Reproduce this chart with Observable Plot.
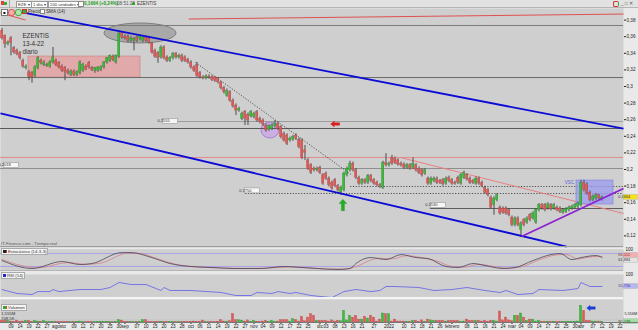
<!DOCTYPE html>
<html><head><meta charset="utf-8">
<script src="https://cdn.jsdelivr.net/npm/d3@7"></script>
<script src="https://cdn.jsdelivr.net/npm/@observablehq/plot@0.6"></script>
<style>
html,body{margin:0;padding:0;}
body{width:638px;height:330px;overflow:hidden;background:#e9e9e9;font-family:"Liberation Sans",Arial,sans-serif;}
#root{position:relative;width:638px;height:330px;}
.abs{position:absolute;}
.pl{position:absolute;left:0;}
#tb{left:0;top:0;width:638px;height:8px;background:#e2e2e2;border-bottom:1px solid #b5b5b5;box-sizing:border-box;font-size:4.6px;line-height:7px;color:#333;}
.box{position:absolute;top:1px;height:5px;line-height:5px;background:#fff;border:0.5px solid #999;font-size:4.3px;padding:0 1px;color:#333;white-space:nowrap;}
.t{position:absolute;white-space:nowrap;font-size:4.6px;color:#333;}
.leg{position:absolute;background:#f4f4f4;border:0.5px solid #aaa;font-size:4.3px;line-height:5px;height:5px;padding:0 1px;white-space:nowrap;color:#333;}
.sq{display:inline-block;width:3px;height:3px;margin-right:1px;vertical-align:middle;}
.sep{position:absolute;left:0;width:623px;}
</style></head>
<body><div id="root">
<div id="tb" class="abs">
  <span class="abs" style="left:1px;top:1px;width:3px;height:4px;background:#e04040"></span>
  <span class="abs" style="left:4px;top:2px;width:3px;height:3px;background:#30b030"></span>
  <span class="abs" style="left:9px;top:0px;width:1px;height:7px;background:#aaa"></span>
  <span class="box" style="left:16px">EZE ▾</span>
  <span class="box" style="left:31px">1 día ▾</span>
  <span class="box" style="left:48px">200 unidades ▾</span>
  <span class="abs" style="left:78px;top:1px;width:4px;height:4px;background:#fff;border:0.5px solid #888"></span>
  <span class="t" style="left:84px;top:0;color:#1a9a1a;font-weight:bold">0,1664 (+0,24%)</span>
  <span class="t" style="left:117px;top:0;color:#555">08:51:22</span>
  <span class="abs" style="left:132px;top:2px;width:3px;height:3px;border-radius:2px;background:#20a020"></span>
  <span class="t" style="left:137px;top:0;color:#444">EZENTIS</span>
  <span class="abs" style="left:613px;top:1px;width:4px;height:4px;border-radius:2px;border:1px solid #d33;border-right-color:#3a3"></span>
  <span class="t" style="left:621px;top:0;color:#555">_ □ ✕</span>
</div>
<div id="price" class="pl" style="top:8px"></div>
<div id="stoch" class="pl" style="top:247px"></div>
<div id="rsi" class="pl" style="top:271px"></div>
<div id="vol" class="pl" style="top:298px"></div>
<div class="sep" style="top:246px;height:1px;background:#9c9c9c"></div>
<div class="sep" style="top:270px;height:1px;background:#b4b4b4"></div>
<div class="sep" style="top:297px;height:2px;background:#f4f4f4"></div>
<div class="abs" style="left:0;top:322px;width:638px;height:1px;background:#777"></div>
<div class="abs" style="left:1px;top:9px;width:5px;height:5px;background:#fff;border:0.5px solid #777;font-size:4px;line-height:5px;text-align:center">■</div>
<div class="abs" style="left:8px;top:9px;width:5px;height:5px;border-radius:3px;background:#f3b0b0;border:0.5px solid #d55"></div>
<div class="abs" style="left:15px;top:9px;width:5px;height:5px;border-radius:3px;background:#b0e8b0;border:0.5px solid #4a4"></div>
<div class="t" style="left:22px;top:9px;line-height:6px"><span class="sq" style="background:#3a3;border:0.3px solid #c33"></span>Precio</div>
<div class="t" style="left:40px;top:9px;line-height:6px"><span class="sq" style="background:#fff;border:0.3px solid #888"></span>SMA (14)</div>
<div class="t" style="left:1px;top:241px;font-size:4.3px;color:#555">IT-Finance.com - Tiempo real</div>
<div class="leg" style="left:1px;top:248px"><span class="sq" style="background:#222;border-right:1.5px solid #c33"></span>Estocástico (14-3-3)</div>
<div class="leg" style="left:1px;top:272px"><span class="sq" style="background:#2222dd"></span>RSI (14)</div>
<div class="leg" style="left:1px;top:304px"><span class="sq" style="background:#3a3;border-right:1.5px solid #d44"></span>Volumen</div>
<div class="t" style="left:1px;top:311px;font-size:4.3px;line-height:5px">1,555M</div>
<div class="t" style="left:1px;top:316px;font-size:4.3px;line-height:5px">708,5K</div>
</div>
<script>
// ---------- DATA (prices in thousandths of euro) ----------
// [open, high, low, close], one per trading session, 06-jul-2021 .. 12-abr-2022
const candles = [
[367,370,356,358],[361,362,346,351],[351,355,349,353],[358,360,337,352],[346,348,339,341],[343,345,337,339],[340,342,332,334],[331,333,322,324],[322,326,320,324],[317,319,307,312],
[316,318,304,311],[313,325,311,323],[322,336,320,334],[331,333,326,328],[326,331,324,329],[325,328,323,326],[324,331,322,329],[329,347,327,335],[331,333,324,326],[328,330,321,323],
[324,326,317,319],[322,324,307,318],[319,321,314,316],[314,320,312,318],[318,320,312,314],[314,319,312,317],[316,331,314,329],[319,328,317,326],[324,326,319,320],[328,330,321,323],
[322,324,318,320],[319,323,316,322],[319,324,317,323],[320,325,318,323],[323,330,321,329],[329,335,327,334],[331,338,329,337],[336,338,330,332],[329,338,327,337],[336,367,334,363],
[364,366,357,359],[360,362,356,358],[360,362,353,355],[355,360,353,358],[355,359,343,357],[359,361,353,355],[357,362,355,360],[355,361,353,359],[359,361,353,355],[358,360,351,353],
[352,353,339,341],[343,345,334,336],[340,342,328,334],[335,349,333,347],[347,349,332,334],[335,337,329,331],[331,336,329,334],[334,341,332,339],[339,341,333,335],[335,339,333,337],
[337,339,329,331],[335,337,329,331],[332,334,327,329],[329,331,321,323],[323,325,317,319],[326,329,311,313],[316,318,309,311],[311,313,308,310],[310,314,308,312],[312,314,309,311],
[311,313,306,308],[311,312,305,307],[310,311,303,305],[305,306,296,298],[298,300,291,293],[289,297,287,295],[293,295,281,283],[283,285,274,276],[277,279,265,271],[271,275,269,273],
[261,269,259,267],[269,271,253,261],[266,268,253,259],[264,271,262,269],[263,269,261,267],[269,271,257,259],[261,263,255,257],[259,261,252,254],[253,255,245,247],[248,254,246,252],
[249,255,247,253],[252,259,250,255],[255,257,247,249],[251,253,237,239],[243,245,233,235],[241,243,229,231],[235,239,233,237],[236,241,234,239],[241,243,235,237],[236,238,225,227],
[235,237,212,214],[223,229,211,220],[211,213,199,201],[205,207,194,196],[201,203,197,199],[199,203,197,201],[202,204,194,196],[193,195,181,183],[195,197,187,189],[189,191,179,181],
[184,186,175,177],[187,189,178,180],[180,182,173,175],[172,180,169,178],[175,197,173,195],[193,203,191,201],[199,210,197,207],[207,209,197,199],[199,201,188,190],[190,192,181,183],
[183,189,181,187],[187,189,182,184],[184,194,182,192],[192,194,184,186],[187,189,181,183],[184,186,179,181],[181,183,177,180],[178,210,176,208],[208,219,203,205],[205,209,203,207],
[214,217,205,207],[213,215,206,208],[211,213,204,206],[207,209,203,205],[206,208,200,202],[202,207,200,205],[205,207,199,201],[202,214,200,207],[205,207,197,199],[201,203,194,196],
[199,201,191,193],[195,201,193,199],[189,191,181,183],[183,191,181,189],[186,191,184,189],[189,191,182,184],[186,188,182,184],[187,189,180,182],[183,191,181,189],[190,192,184,186],
[187,189,181,183],[184,186,181,183],[190,192,182,184],[183,195,181,193],[190,198,188,196],[193,195,186,188],[189,191,182,184],[186,188,182,184],[183,191,181,189],[189,191,181,183],
[184,186,178,180],[178,180,170,172],[175,177,167,169],[166,168,152,154],[157,167,145,165],[163,171,161,169],[154,156,145,147],[153,155,146,148],[153,155,145,147],[151,153,143,145],
[142,144,131,133],[133,143,131,141],[141,143,131,133],[127,137,118,135],[139,141,131,133],[136,143,134,141],[145,147,137,139],[141,149,139,147],[136,153,134,151],[151,159,149,157],
[157,159,151,153],[157,159,149,151],[153,160,151,158],[157,159,150,152],[153,159,151,157],[154,156,149,151],[153,155,147,149],[148,153,146,151],[149,154,147,152],[151,156,149,154],
[153,157,151,155],[154,159,152,157],[155,161,153,159],[157,187,155,184],[184,187,173,175],[182,184,169,171],[172,174,161,163],[163,169,161,167],[165,171,163,169],[169,170,163,165],
[164,168,162,166.4]
];
// volume, millions of shares
const volume = [
1.2,1.2,1.0,0.6,0.5,1.2,0.5,0.6,1.0,1.0, 0.5,1.0,0.6,0.5,1.0,0.4,0.4,0.5,0.4,0.4,
0.3,0.4,0.5,0.3,0.4,0.5,0.6,0.4,0.3,0.4, 0.4,0.3,0.4,0.5,0.4,0.5,0.4,0.3,0.4,1.5,
1.2,0.5,0.4,0.4,0.3,0.4,0.4,1.5,1.5,0.4, 0.3,0.4,0.5,0.5,0.4,0.3,0.3,0.4,0.3,0.4,
0.3,0.4,0.4,0.5,0.6,0.5,0.4,1.2,0.4,0.3, 0.4,0.3,0.5,1.5,0.6,0.5,0.8,5.2,1.4,1.4,
1.2,0.6,1.3,0.5,1.0,0.5,0.4,0.6,1.0,0.5, 1.0,0.5,0.6,1.5,1.5,1.5,0.6,2.0,1.5,0.6,
3.5,0.8,3.0,5.1,4.1,1.0,1.0,1.0,1.0,0.6, 1.3,0.6,1.0,0.8,7.1,1.3,4.1,3.0,4.1,1.8,
1.8,3.5,2.4,4.1,3.0,0.6,1.8,5.5,5.1,5.1, 0.6,1.8,0.6,0.6,0.6,0.5,0.4,1.0,1.0,0.5,
1.3,0.5,1.8,1.3,1.0,1.0,1.0,1.0,0.6,1.0, 1.0,1.0,1.0,0.5,0.6,1.8,1.0,1.0,1.0,1.0,
0.6,1.0,0.5,1.0,1.0,0.6,6.7,1.3,3.0,1.3, 0.8,4.1,4.1,5.5,3.0,1.0,1.8,1.8,0.6,1.0,
0.5,0.4,0.5,0.4,0.5,0.4,0.4,0.5,0.4,0.5, 0.4,0.5,0.6,10.2,7.1,1.0,1.0,0.6,0.6,0.6,
0.5
];
// Stochastic %K / %D and RSI, [session index, value]
const stochK = [[0,47.5],[10,10.6],[20,43],[26,29],[30,33.7],[40,84.5],[43,84.5],[50,61],[56,33.7],[63,19.8],[70,15.2],[77,10.6],[86,10.6],[94,19.8],[100,15.2],[105,10.6],[112,6],[116,10.6],[118,33.7],[121,56.8],[123,61.4],[128,52],[133,75],[138,61.4],[142,56.8],[148,19.8],[152,15.2],[157,33.7],[161,24.5],[167,10.6],[171,15.2],[177,47.5],[183,75],[186,80],[190,52],[193,61],[198,70.6],[200,61.9]];
const stochD = [[0,52],[12,14],[22,38],[28,30],[33,36],[42,82],[46,80],[52,55],[58,30],[65,18],[72,14],[80,11],[88,12],[96,18],[102,14],[108,9],[114,8],[119,25],[123,50],[126,58],[130,55],[135,70],[140,60],[145,45],[150,20],[154,17],[159,30],[163,22],[169,12],[173,18],[179,50],[185,74],[188,76],[192,55],[195,62],[199,67],[200,66]];
const rsi = [[0,44.6],[5,30],[10,26],[12,37],[16,37],[17,44.6],[19,37],[26,44.6],[33,44.6],[36,52],[39,70.5],[43,63],[48,63],[53,41],[54,52],[56,41],[63,41],[73,33.6],[78,22.5],[83,22.5],[85,33.6],[90,30],[92,37],[96,30],[98,33.6],[103,22.5],[106,19],[110,15],[114,37],[118,44.6],[123,37],[126,41],[128,55.7],[131,55.7],[139,52],[144,41],[150,44.6],[155,52],[161,41],[166,33.6],[168,41],[172,26],[177,30],[179,44.6],[187,41],[192,48],[193,70.5],[196,55.7],[200,55.7]];
// date ticks: [session index, label]
const xTicks = [[3,"09"],[6,"14"],[9,"19"],[12,"22"],[15,"27"],[19,"agosto"],[24,"09"],[27,"12"],[30,"17"],[33,"20"],[36,"25"],[39,"30"],[41,"sep"],[45,"07"],[48,"10"],[51,"15"],[54,"20"],[57,"23"],[60,"28"],[63,"oct"],[66,"06"],[69,"11"],[72,"14"],[75,"19"],[78,"22"],[81,"27"],[84,"nov"],[87,"04"],[90,"09"],[93,"12"],[96,"17"],[99,"22"],[102,"25"],[106,"dic"],[108,"03"],[111,"08"],[114,"13"],[117,"16"],[120,"21"],[124,"27"],[129,"2022"],[134,"10"],[137,"13"],[140,"18"],[143,"21"],[146,"26"],[150,"febrero"],[155,"08"],[158,"11"],[161,"16"],[164,"21"],[167,"24"],[170,"mar"],[173,"04"],[176,"09"],[179,"14"],[182,"17"],[185,"22"],[188,"25"],[191,"30"],[193,"abr"],[197,"07"],[200,"12"],[203,"19"],[206,"22"]];
const priceTicks = [0.12,0.14,0.16,0.18,0.2,0.22,0.24,0.26,0.28,0.3,0.32,0.34,0.36,0.38];
// horizontal levels drawn on the chart (price, first session)
const solidLevels = [0.3735,0.3108,0.2578,0.2494,0.2145,0.2012,0.1530];
const solidFrom = [-0.5,-0.5,53.5,-0.5,-0.5,-0.5,142.8];
const dottedLevels = [0.1795,0.1711];
const dottedFrom = [116.2,81.2];
const levelTags = [[0.5,0.2048,"0,2018"],[53.5,0.2578,"0,2555"],[80.8,0.1742,"0,1750"],[142.8,0.1566,"0,1530"]];
// trend lines [i1, p1, i2, p2]
const blueLines = [[7.17,0.389,207.17,0.2492],[-0.5,0.2675,188.2,0.1072]];
const purpleLine = [[173.2,0.1193,207.17,0.1771]];
const redLines = [[132.8,0.2145,207.17,0.1470]];
const redTopLines = [[-0.5,0.3886,7.83,0.3801],[62.2,0.3813,207.17,0.3873]];
const dottedTrend = [[64.5,0.3289,116.8,0.1928]];
// annotation zones
const pinkZone = [[8.83,46.17,0.3108,0.3361]];
const vscZone = [[191.5,203.83,0.1578,0.1867]];
const grayEllipse = [46.17,0.3639];
const violetCircle = [89.5,0.2470];
const notes = [[6.8,0.3614,"EZENTIS"],[6.8,0.3518,"13-4-22"],[6.8,0.3422,"diario"]];
const lastPrice = 0.1664;
const lastPriceText = "0,1664";
const stochTags = [[71,"66,052"],[48,"61,884"]];
const rsiTag = [55.756,"55,756"];
const volTag = [0.5,"80,038"];
const volTick = [5.556,"5,556M"];

// ---------- build ----------
const data = candles.map((c,i)=>({i, o:c[0]/1000, h:c[1]/1000, l:c[2]/1000, c:c[3]/1000, v:volume[i]}));
const up = d => d.c >= d.o;
const RED = "#e05a58", GREEN = "#38bd38";
const X = {domain:[-0.5,207.17], axis:null};
const W = 638, MR = 15;
const base = {width:W, marginLeft:0, marginRight:MR, style:{background:"transparent", fontSize:"4.6px", fontFamily:"Liberation Sans, Arial, sans-serif", color:"#222", overflow:"visible"}, color:{type:"identity"}};

function ellipseMark(cx, cy, rx, ry, fill, op, stroke){
  return (index, {x, y}) => d3.create("svg:ellipse").attr("cx", x(cx)).attr("cy", y(cy)).attr("rx", rx).attr("ry", ry)
      .attr("fill", fill).attr("fill-opacity", op).attr("stroke", stroke).attr("stroke-width", 0.8).node();
}
function tags(list){
  return (index, {x, y}) => {
    const g = d3.create("svg:g");
    for (const [i,p,t] of list){
      const px = x(i), py = y(p);
      g.append("rect").attr("x", px+0.5).attr("y", py-2.5).attr("width", 15).attr("height", 5).attr("fill", "#f6f6f6").attr("stroke", "#8a8a8a").attr("stroke-width", 0.5);
      g.append("text").attr("x", px+1.5).attr("y", py).attr("dy", "0.35em").attr("font-size", 4).attr("fill", "#333").text(t);
    }
    return g.node();
  };
}
function sideTags(list){
  return (index, {y}, values, dims) => {
    const g = d3.create("svg:g");
    const x0 = dims.width - dims.marginRight + 0.5;
    for (const [v,t,fill,col] of list){
      const py = y(v);
      g.append("rect").attr("x", x0).attr("y", py-2.4).attr("width", MR-1).attr("height", 4.8).attr("fill", fill).attr("stroke","#999").attr("stroke-width",0.3);
      g.append("text").attr("x", x0+0.8).attr("y", py).attr("dy","0.35em").attr("font-size",3.9).attr("fill", col).text(t);
    }
    return g.node();
  };
}
function arrowMark(i, v, dir, color, s){
  const paths = {
    left: "M-5,0 L-1,-3.2 L-1,-1.4 L5,-1.4 L5,1.4 L-1,1.4 L-1,3.2 Z",
    up: "M0,-6 L-4,-1.5 L-1.6,-1.5 L-1.6,6 L1.6,6 L1.6,-1.5 L4,-1.5 Z"
  };
  return (index, {x, y}) => d3.create("svg:path").attr("d", paths[dir])
    .attr("transform", `translate(${x(i)},${y(v)}) scale(${s})`).attr("fill", color).attr("stroke", d3.color(color).darker(0.6)).attr("stroke-width",0.4).node();
}

const priceFmt = v => String(+v.toFixed(2)).replace(".", ",");

const price = Plot.plot({
  ...base, height:239, marginTop:0, marginBottom:0,
  x: X,
  y: {domain:[0.10602,0.39398], axis:"right", ticks:priceTicks, tickFormat:priceFmt, tickSize:2, tickPadding:1, label:null},
  marks: [
    Plot.frame({fill:"#cfcfcf"}),
    ellipseMark(grayEllipse[0], grayEllipse[1], 36, 10, "#a4a4a4", 0.9, "#6e6e6e"),
    Plot.rect(pinkZone, {x1:d=>d[0], x2:d=>d[1], y1:d=>d[2], y2:d=>d[3], fill:"#e4a2a2", fillOpacity:0.85, stroke:"#cf7d7d", strokeWidth:0.6}),
    ellipseMark(violetCircle[0], violetCircle[1], 9, 8, "#c9a6e6", 0.8, "#a070cf"),
    Plot.ruleY(solidLevels, {y:d=>d, x1:(d,i)=>solidFrom[i], x2:207.17,
      stroke:(d,i)=>["#7c7c7c","#6a6a6a","#9c9c9c","#585858","#e08a8a","#8e8e8e","#5e5e5e"][i], strokeWidth:1}),
    Plot.ruleY(dottedLevels, {y:d=>d, x1:(d,i)=>dottedFrom[i], x2:207.17, stroke:"#2e2e2e", strokeWidth:0.8, strokeDasharray:"1.2,1.6"}),
    Plot.link(dottedTrend, {x1:d=>d[0], y1:d=>d[1], x2:d=>d[2], y2:d=>d[3], stroke:"#333", strokeWidth:0.8, strokeDasharray:"1.2,1.6"}),
    Plot.link(redTopLines, {x1:d=>d[0], y1:d=>d[1], x2:d=>d[2], y2:d=>d[3], stroke:"#e05050", strokeWidth:1}),
    Plot.link(redLines, {x1:d=>d[0], y1:d=>d[1], x2:d=>d[2], y2:d=>d[3], stroke:"#e88080", strokeWidth:1}),
    Plot.rect(vscZone, {x1:d=>d[0], x2:d=>d[1], y1:d=>d[2], y2:d=>d[3], fill:"#9b9bf0", fillOpacity:0.75, stroke:"#7f7fe0", strokeWidth:0.6}),
    Plot.ruleX(data, {x:"i", y1:"l", y2:"h", stroke:"#4a4a4a", strokeWidth:1}),
    Plot.rect(data, {x1:d=>d.i-0.36, x2:d=>d.i+0.36, y1:"o", y2:"c", fill:d=>up(d)?GREEN:RED, stroke:d=>up(d)?"#2a8a2a":"#b04444", strokeWidth:0.3}),
    Plot.link(blueLines, {x1:d=>d[0], y1:d=>d[1], x2:d=>d[2], y2:d=>d[3], stroke:"#0b0bd6", strokeWidth:1.8}),
    Plot.link(purpleLine, {x1:d=>d[0], y1:d=>d[1], x2:d=>d[2], y2:d=>d[3], stroke:"#8a22d0", strokeWidth:1.8}),
    tags(levelTags),
    Plot.text(notes, {x:d=>d[0], y:d=>d[1], text:d=>d[2], textAnchor:"start", fontSize:6.3, fill:"#333"}),
    Plot.text([[187.6,0.1845,"VSC"]], {x:d=>d[0], y:d=>d[1], text:d=>d[2], textAnchor:"start", fontSize:4.6, fill:"#5c5cd8"}),
    arrowMark(111.2, 0.2542, "left", "#e02020", 0.9),
    arrowMark(113.8, 0.1566, "up", "#22b022", 0.95),
    sideTags([[lastPrice, lastPriceText, "#f4e21c", "#333"]])
  ]
});
document.getElementById("price").append(price);

const stoch = Plot.plot({
  ...base, height:24, marginTop:1.7, marginBottom:0.7,
  x: X,
  y: {domain:[0,100], axis:"right", ticks:[100], tickSize:0, tickPadding:2, label:null},
  marks: [
    Plot.frame({fill:"#cfcfcf"}),
    Plot.ruleY([80,20], {stroke:"#9d9ae6", strokeWidth:0.8}),
    Plot.line(stochD, {x:d=>d[0], y:d=>d[1], stroke:"#d88080", strokeWidth:0.8, curve:"monotone-x"}),
    Plot.line(stochK, {x:d=>d[0], y:d=>d[1], stroke:"#3a3450", strokeWidth:0.7, curve:"monotone-x"}),
    sideTags([[stochTags[0][0], stochTags[0][1], "#f2b0b0", "#a03030"], [stochTags[1][0], stochTags[1][1], "#e4e4e4", "#333"]])
  ]
});
document.getElementById("stoch").append(stoch);

const rsiPlot = Plot.plot({
  ...base, height:27, marginTop:3, marginBottom:0,
  x: X,
  y: {domain:[11.44,100], axis:"right", ticks:[100], tickSize:0, tickPadding:2, label:null},
  marks: [
    Plot.frame({fill:"#cfcfcf"}),
    Plot.line(rsi, {x:d=>d[0], y:d=>d[1], stroke:"#5f5fe8", strokeWidth:0.8}),
    sideTags([[rsiTag[0], rsiTag[1], "#b8b8f0", "#3333aa"]])
  ]
});
document.getElementById("rsi").append(rsiPlot);

const tickMap = new Map(xTicks);
const volPlot = Plot.plot({
  ...base, height:32, marginTop:1, marginBottom:8,
  x: {domain:[-0.5,207.17], ticks:xTicks.map(d=>d[0]), tickFormat:i=>tickMap.get(i), tickSize:2, tickPadding:0.5, label:null},
  y: {domain:[0,14], axis:null},
  marks: [
    Plot.frame({fill:"#cfcfcf"}),
    Plot.ruleY([1.55],{stroke:"#bdbdbd", strokeWidth:0.5}),
    Plot.rect(data, {x1:d=>d.i-0.36, x2:d=>d.i+0.36, y1:0, y2:"v", fill:d=>up(d)?GREEN:RED, stroke:d=>up(d)?"#2a8a2a":"#b04444", strokeWidth:0.3}),
    arrowMark(196.5, 8.5, "left", "#1a3ee0", 0.85),
    Plot.text([volTick], {x:207.17, y:d=>d[0], text:d=>d[1], textAnchor:"start", dx:1, fontSize:3.8, fill:"#222"}),
    sideTags([[volTag[0], volTag[1], "#9fe09f", "#225522"]])
  ]
});
document.getElementById("vol").append(volPlot);
</script>
</body></html>
